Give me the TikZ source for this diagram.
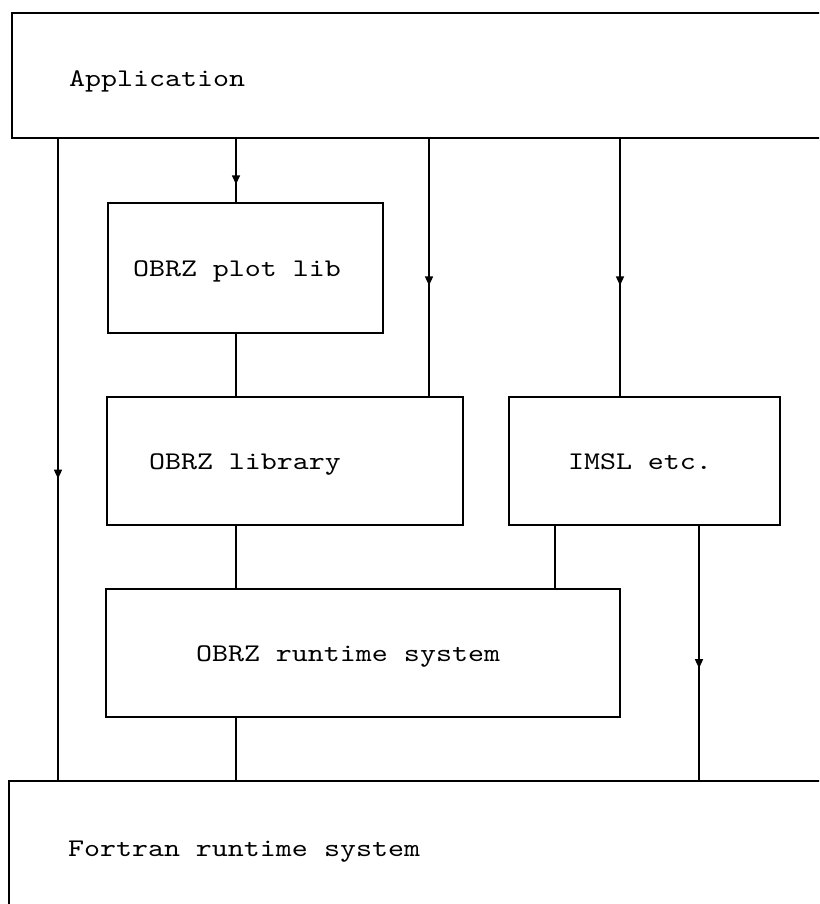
\documentclass[tikz,border=0pt]{standalone}
\usepackage{fontspec}
\setmonofont{lmmono10-regular.otf}[FakeStretch=1.2]
\usetikzlibrary{arrows.meta, positioning, decorations.markings}

\newcommand{\boxfont}{\ttfamily\fontsize{12.7}{16}\selectfont
  \spaceskip=8pt\relax \xspaceskip=8pt\relax}

\tikzset{
  blk/.style={draw, line width=1pt, anchor=north west, inner ysep=0pt, align=flush left,
    text height=11pt, text depth=3pt, font=\boxfont},
  wire/.style={line width=0.65pt},
  midarrow/.style={wire, postaction={decorate}, decoration={markings,
    mark=at position #1 with {\arrow{Triangle[length=4.5pt, width=4pt]}}}}
}

\begin{document}
\begin{tikzpicture}[x=0.5pt, y=-0.5pt]
  \useasboundingbox (0,0) rectangle (819,904);
  \clip (0,0) rectangle (819,904);

  % layers
  \node[blk, inner xsep=28.5pt, text width=352.5pt, minimum height=62.5pt, text height=14pt] (app) at (11,12) {Application};
  \node[blk, inner xsep=12.5pt, text width=112.5pt, minimum height=65pt] (plot) at (107,202) {OBRZ plot lib};
  \node[blk, inner xsep=21pt, text width=136pt, minimum height=64pt] (lib) at (106,396) {OBRZ library};
  \node[blk, inner xsep=29.5pt, text width=76.5pt, minimum height=64pt] (imsl) at (508,396) {IMSL etc.};
  \node[blk, inner xsep=45pt, text width=167pt, minimum height=64pt] (rts) at (105,588) {OBRZ runtime system};
  \node[blk, inner xsep=29.5pt, text width=352pt, minimum height=67.5pt] (fort) at (8,780) {Fortran runtime system};

  % columns of the calls
  \coordinate (colA) at (58,0);
  \coordinate (colB) at (236,0);
  \coordinate (colC) at (429,0);
  \coordinate (colD) at (620,0);
  \coordinate (colE) at (555,0);
  \coordinate (colF) at (699,0);

  \draw[midarrow=0.53] (app.south -| colA) -- (fort.north -| colA);
  \draw[midarrow=0.72] (app.south -| colB) -- (plot.north -| colB);
  \draw[midarrow=0.57] (app.south -| colC) -- (lib.north -| colC);
  \draw[midarrow=0.57] (app.south -| colD) -- (imsl.north -| colD);
  \draw[wire] (plot.south -| colB) -- (lib.north -| colB);
  \draw[wire] (lib.south -| colB) -- (rts.north -| colB);
  \draw[wire] (imsl.south -| colE) -- (rts.north -| colE);
  \draw[midarrow=0.56] (imsl.south -| colF) -- (fort.north -| colF);
  \draw[wire] (rts.south -| colB) -- (fort.north -| colB);
\end{tikzpicture}
\end{document}
